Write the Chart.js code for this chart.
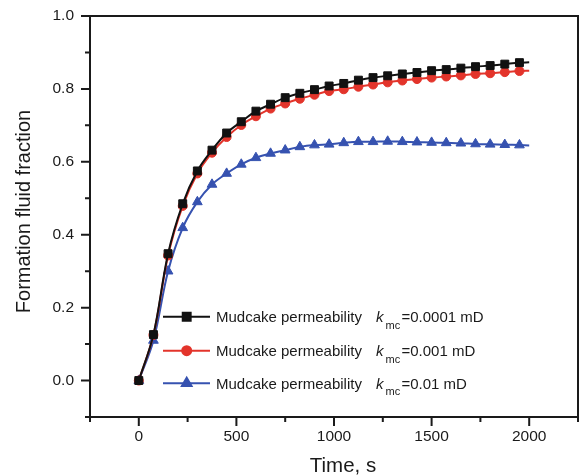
<!DOCTYPE html>
<html>
<head>
<meta charset="utf-8">
<script src="https://cdn.jsdelivr.net/npm/chart.js@4.4.1/dist/chart.umd.min.js"></script>
<style>
  html, body { margin: 0; padding: 0; background: #fff; }
  #wrap { width: 579px; height: 475px; }
</style>
</head>
<body>
<div id="wrap"><canvas id="chart" width="579" height="475"></canvas></div>
<script>
// time in seconds (markers every 75 s, line runs on to 2000 s)
const times = [0, 75, 150, 225, 300, 375, 450, 525, 600, 675, 750, 825, 900, 975,
  1050, 1125, 1200, 1275, 1350, 1425, 1500, 1575, 1650, 1725, 1800, 1875, 1950, 2000];

// formation fluid fraction for each mudcake permeability
const k0001 = [0, 0.126, 0.348, 0.485, 0.575, 0.632, 0.679, 0.710, 0.739, 0.758, 0.776, 0.788, 0.798, 0.808,
  0.815, 0.824, 0.831, 0.836, 0.841, 0.845, 0.850, 0.853, 0.857, 0.861, 0.864, 0.868, 0.872, 0.873];
const k001 = [0, 0.125, 0.343, 0.479, 0.568, 0.625, 0.668, 0.701, 0.725, 0.746, 0.760, 0.773, 0.784, 0.794,
  0.799, 0.806, 0.812, 0.818, 0.823, 0.827, 0.831, 0.834, 0.837, 0.841, 0.843, 0.846, 0.849, 0.850];
const k01 = [0, 0.110, 0.300, 0.419, 0.490, 0.538, 0.568, 0.593, 0.611, 0.623, 0.632, 0.641, 0.646, 0.648,
  0.652, 0.655, 0.655, 0.656, 0.655, 0.654, 0.653, 0.652, 0.651, 0.649, 0.648, 0.647, 0.646, 0.645];

const legendLabels = ['=0.0001 mD', '=0.001 mD', '=0.01 mD'];

const FONT = '"Liberation Sans", Arial, Helvetica, sans-serif';

function toXY(ys){
  return times.map((t, i) => ({x: t, y: ys[i]}));
}

// no marker on the trailing line end
function radii(r){
  return times.map((t, i) => i === times.length - 1 ? 0 : r);
}

const series = [
  {data: k0001, color: '#111111', style: 'rect', r: 5.6},
  {data: k001,  color: '#e3342b', style: 'circle', r: 4.5},
  {data: k01,   color: '#3652b0', style: 'triangle', r: 5.6}
];

// frame, minor/major ticks, titles and the legend with subscripts
const decorPlugin = {
  id: 'decor',
  afterDraw(chart){
    const ctx = chart.ctx;
    const a = chart.chartArea;
    const xs = chart.scales.x, ys = chart.scales.y;
    ctx.save();
    ctx.strokeStyle = '#1a1a1a';
    ctx.lineWidth = 2;
    ctx.strokeRect(a.left, a.top, a.right - a.left, a.bottom - a.top);

    ctx.beginPath();
    for (let v = -250; v <= 2250; v += 250){
      const px = xs.getPixelForValue(v);
      const len = (v % 500 === 0) ? 9 : 5;
      ctx.moveTo(px, a.bottom);
      ctx.lineTo(px, a.bottom + len);
    }
    for (let n = -1; n <= 10; n++){
      const py = ys.getPixelForValue(n / 10);
      const len = (n % 2 === 0) ? 9 : 5;
      ctx.moveTo(a.left, py);
      ctx.lineTo(a.left - len, py);
    }
    ctx.stroke();

    // axis titles
    ctx.fillStyle = '#1a1a1a';
    ctx.textAlign = 'center';
    ctx.textBaseline = 'alphabetic';
    ctx.font = '20.5px ' + FONT;
    ctx.fillText('Time, s', 343, 471.5);
    ctx.save();
    ctx.translate(30, 211.5);
    ctx.rotate(-Math.PI / 2);
    ctx.font = '20px ' + FONT;
    ctx.fillText('Formation fluid fraction', 0, 0);
    ctx.restore();

    // legend
    const rows = [316.7, 350.7, 383.3];
    series.forEach((s, i) => {
      const y = rows[i];
      ctx.strokeStyle = s.color;
      ctx.lineWidth = 2;
      ctx.beginPath();
      ctx.moveTo(163, y);
      ctx.lineTo(210, y);
      ctx.stroke();
      ctx.fillStyle = s.color;
      Chart.helpers.drawPoint(ctx, {pointStyle: s.style, radius: s.r, rotation: 0, borderWidth: 1}, 186.7, y);

      ctx.fillStyle = '#1a1a1a';
      ctx.textAlign = 'left';
      ctx.font = '15px ' + FONT;
      ctx.fillText('Mudcake permeability', 216, y + 5.6);
      ctx.font = 'italic 15px ' + FONT;
      ctx.fillText('k', 376, y + 5.6);
      ctx.font = '11px ' + FONT;
      ctx.fillText('mc', 385.5, y + 12);
      ctx.font = '15px ' + FONT;
      ctx.fillText(legendLabels[i], 401.5, y + 5.6);
    });
    ctx.restore();
  }
};

new Chart(document.getElementById('chart'), {
  type: 'line',
  data: {
    datasets: series.map(s => ({
      data: toXY(s.data),
      borderColor: s.color,
      backgroundColor: s.color,
      borderWidth: 2,
      tension: 0.35,
      pointStyle: s.style,
      pointRadius: radii(s.r),
      pointBorderWidth: 1,
      pointBorderColor: s.color,
      pointBackgroundColor: s.color,
      clip: false
    }))
  },
  options: {
    responsive: false,
    animation: false,
    layout: {autoPadding: false, padding: {top: 16, right: 1, left: 0, bottom: 0}},
    plugins: {legend: {display: false}, tooltip: {enabled: false}},
    scales: {
      x: {
        type: 'linear',
        min: -250, max: 2250,
        grid: {display: false, drawTicks: false},
        border: {display: false},
        afterFit(scale){
          scale.height = 58;
          scale.paddingLeft = 0;
          scale.paddingRight = 0;
        },
        ticks: {
          stepSize: 250,
          autoSkip: false,
          maxRotation: 0,
          padding: 10,
          color: '#1a1a1a',
          font: {family: FONT, size: 15.5},
          callback: v => (v >= 0 && v <= 2000 && v % 500 === 0) ? String(v) : ''
        }
      },
      y: {
        type: 'linear',
        min: -0.1, max: 1.0,
        grid: {display: false, drawTicks: false},
        border: {display: false},
        afterFit(scale){
          scale.width = 90;
          scale.paddingTop = 0;
          scale.paddingBottom = 0;
        },
        ticks: {
          stepSize: 0.1,
          autoSkip: false,
          padding: 16,
          color: '#1a1a1a',
          font: {family: FONT, size: 15.5},
          callback: v => {
            const n = Math.round(v * 10);
            return (n >= 0 && n % 2 === 0) ? (n / 10).toFixed(1) : '';
          }
        }
      }
    }
  },
  plugins: [decorPlugin]
});
</script>
</body>
</html>
